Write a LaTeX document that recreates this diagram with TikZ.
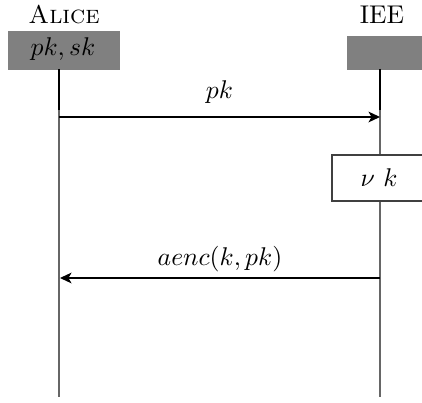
\documentclass[tikz,border=0pt]{standalone}
\usetikzlibrary{arrows.meta}
\begin{document}
\begin{tikzpicture}[x=0.39pt,y=-0.39pt,
  headbox/.style={fill=black!50,draw=none,inner sep=0pt,anchor=north west},
  lifeline/.style={draw=black!60,line width=0.45pt},
  active/.style={draw=black,line width=0.8pt},
  msg/.style={draw=black,line width=0.55pt,-{Stealth[length=4.5pt,width=4.2pt,inset=1.2pt]}},
  actbox/.style={draw=black!75,fill=white,line width=0.45pt,minimum width=94*0.39pt,minimum height=46*0.39pt,inner sep=0pt},
  lbl/.style={inner sep=0pt}]
\useasboundingbox (0,0) rectangle (422,402);
\clip (0,0) rectangle (422,402);
% heads
\node[lbl] (alicename) at (64,15) {\textsc{Alice}};
\node[lbl] (ieename) at (382,15) {IEE};
\node[headbox,minimum width=112*0.39pt,minimum height=39*0.39pt] (alicebox) at (7,30) {};
\node[lbl] (alicekeys) at (63,49) {$pk, sk$};
\node[headbox,minimum width=80*0.39pt,minimum height=34*0.39pt] (ieebox) at (346,35) {};
% lifeline coordinates
\coordinate (a0) at (59,69);
\coordinate (a1) at (59,110);
\coordinate (aend) at (59,397);
\coordinate (i0) at (380,69);
\coordinate (i1) at (380,110);
\coordinate (iend) at (380,397);
\coordinate (m1s) at (59,117);
\coordinate (m1e) at (380,117);
\coordinate (m2s) at (380,278);
\coordinate (m2e) at (60,278);
% lifelines
\draw[lifeline] (a1) -- (aend);
\draw[lifeline] (i1) -- (iend);
\draw[active] (a0) -- (a1);
\draw[active] (i0) -- (i1);
% action box
\node[actbox] (nuk) at (379,178) {$\nu\ k$};
% messages
\draw[msg] (m1s) -- node[lbl,anchor=base,yshift=7.4pt] (l1) {$pk$} (m1e);
\draw[msg] (m2s) -- node[lbl,anchor=base,yshift=4.9pt] (l2) {$aenc(k,pk)$} (m2e);
\end{tikzpicture}
\end{document}
